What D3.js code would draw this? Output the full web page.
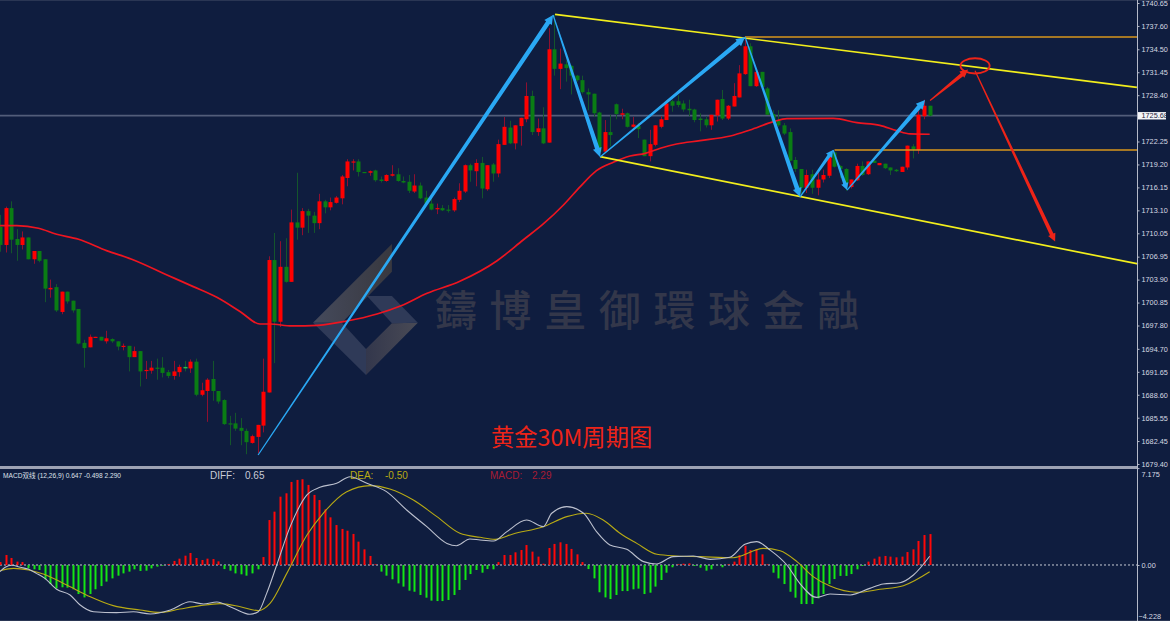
<!DOCTYPE html>
<html>
<head>
<meta charset="utf-8">
<style>
html,body{margin:0;padding:0;background:#0f1d3f;overflow:hidden}
svg{display:block}
text{font-family:"Liberation Sans",Arial,sans-serif}
</style>
<script src="https://cdn.jsdelivr.net/npm/d3@7/dist/d3.min.js"></script>
</head>
<body>
<svg id="chart" width="1170" height="621"></svg>
<script>
// Gold 30-minute bars, one entry per bar
const opens=[1710.9,1708.5,1713.4,1709.3,1708.5,1709.5,1706.6,1707.7,1706.6,1702.6,1702.9,1699.6,1702.3,1701.1,1700.0,1695.5,1694.9,1696.2,1696.3,1695.7,1696.0,1695.7,1695.0,1695.1,1693.6,1694.4,1691.8,1691.8,1692.2,1692.2,1691.6,1691.1,1691.6,1692.3,1692.1,1693.0,1688.6,1689.1,1690.7,1689.1,1687.9,1684.8,1684.8,1684.2,1683.8,1682.2,1683.0,1684.5,1688.9,1706.5,1698.3,1705.6,1703.6,1711.5,1710.8,1713.0,1712.4,1711.4,1714.3,1713.5,1714.1,1714.7,1717.4,1719.5,1719.6,1718.2,1718.1,1718.4,1717.2,1717.0,1717.7,1717.9,1717.0,1716.9,1715.6,1716.4,1714.8,1714.0,1713.3,1713.4,1713.2,1713.1,1714.5,1715.6,1719.1,1718.3,1719.4,1715.9,1719.2,1718.0,1721.8,1724.1,1722.0,1724.3,1725.2,1728.3,1723.5,1724.0,1722.1,1734.5,1731.9,1732.5,1732.3,1731.0,1730.4,1728.8,1728.6,1726.1,1720.9,1723.5,1727.2,1725.8,1726.0,1724.2,1724.3,1722.5,1720.3,1721.8,1724.2,1725.1,1727.6,1727.6,1727.3,1726.6,1726.5,1725.3,1725.2,1724.4,1725.7,1727.9,1725.3,1726.9,1728.1,1731.2,1734.9,1729.6,1731.5,1729.3,1725.9,1725.0,1724.4,1723.5,1719.8,1718.6,1716.1,1717.9,1716.1,1717.2,1717.7,1720.8,1719.0,1718.6,1716.2,1717.1,1719.0,1717.9,1719.7,1719.1,1719.3,1718.8,1718.5,1718.2,1718.8,1721.6,1721.1,1725.6,1727.0];
const highs=[1712.5,1713.6,1714.3,1710.6,1710.3,1709.5,1707.7,1707.7,1706.6,1703.9,1703.3,1702.3,1702.3,1701.1,1700.0,1695.9,1696.6,1696.3,1696.3,1697.1,1696.1,1695.7,1695.4,1695.1,1695.0,1694.4,1693.1,1693.1,1693.4,1693.6,1691.9,1693.1,1692.6,1693.1,1693.3,1693.4,1690.2,1690.8,1693.1,1689.1,1688.0,1685.8,1686.2,1685.5,1684.1,1683.3,1684.6,1693.4,1707.0,1710.1,1709.0,1709.4,1713.2,1718.1,1713.4,1713.3,1712.9,1715.3,1714.5,1714.8,1715.0,1717.8,1719.9,1719.9,1719.9,1718.2,1718.4,1718.5,1717.6,1717.9,1719.1,1718.7,1717.6,1717.8,1717.9,1716.8,1715.7,1714.7,1714.0,1713.8,1713.8,1714.8,1716.7,1719.2,1719.3,1719.9,1720.2,1719.1,1719.4,1722.5,1725.5,1725.0,1724.4,1725.4,1730.1,1729.0,1725.3,1726.8,1737.3,1739.1,1734.6,1733.0,1732.4,1731.1,1731.0,1729.3,1728.6,1726.2,1725.1,1725.8,1727.3,1726.6,1726.1,1725.5,1724.7,1722.5,1723.8,1724.4,1725.6,1727.5,1727.8,1728.4,1727.7,1727.8,1726.6,1726.0,1725.6,1725.8,1727.8,1729.1,1727.1,1730.0,1732.4,1735.8,1735.3,1731.7,1731.5,1729.5,1726.4,1726.4,1724.7,1724.0,1720.2,1718.6,1718.5,1718.5,1718.4,1718.5,1720.9,1720.9,1719.1,1718.7,1717.2,1719.3,1719.6,1719.6,1719.7,1719.4,1719.3,1718.8,1718.6,1718.9,1721.7,1721.9,1726.7,1727.8,1727.0];
const lows=[1707.6,1707.5,1707.4,1706.4,1707.9,1706.6,1706.0,1706.2,1700.9,1701.5,1699.6,1699.3,1700.7,1699.5,1695.3,1692.2,1694.9,1696.2,1695.8,1695.4,1695.5,1694.5,1694.5,1691.7,1693.6,1689.7,1690.7,1691.4,1690.6,1690.9,1690.8,1690.6,1691.0,1691.7,1691.5,1688.4,1688.4,1685.0,1687.8,1687.4,1684.6,1681.9,1683.8,1681.9,1680.7,1682.1,1680.8,1683.6,1688.9,1692.8,1697.6,1703.5,1703.6,1709.2,1709.8,1710.1,1710.1,1710.6,1712.7,1713.1,1714.0,1713.9,1716.3,1718.4,1717.6,1718.1,1717.7,1716.9,1716.8,1716.9,1717.6,1716.9,1716.7,1715.4,1715.4,1714.6,1713.9,1713.1,1712.6,1713.0,1712.8,1712.9,1714.2,1715.4,1716.9,1716.3,1714.7,1715.7,1716.9,1717.5,1721.8,1721.9,1721.2,1721.7,1724.8,1723.1,1723.0,1721.9,1722.1,1731.0,1729.2,1730.2,1728.5,1730.2,1728.6,1726.4,1725.5,1720.7,1720.8,1721.6,1725.2,1725.2,1724.1,1724.1,1722.7,1720.3,1719.6,1721.6,1724.0,1725.1,1726.2,1726.8,1726.2,1725.6,1724.8,1723.6,1724.1,1723.8,1724.9,1725.1,1725.1,1726.9,1728.1,1731.1,1729.6,1729.5,1729.3,1725.8,1724.9,1724.2,1723.1,1719.6,1718.2,1714.9,1715.4,1715.3,1715.1,1716.8,1717.4,1718.8,1717.4,1715.7,1716.0,1717.0,1717.7,1717.8,1719.4,1719.1,1718.6,1717.8,1718.2,1718.2,1718.5,1720.0,1720.6,1725.2,1725.6];
const closes=[1708.5,1713.4,1709.2,1708.5,1709.5,1706.6,1707.7,1706.4,1702.7,1702.8,1699.8,1702.3,1701.0,1699.8,1695.4,1694.8,1696.3,1696.3,1695.8,1696.1,1695.7,1695.0,1695.1,1693.6,1694.4,1691.7,1691.9,1692.2,1692.1,1691.5,1691.1,1691.7,1692.3,1692.1,1693.0,1688.6,1689.2,1690.6,1689.1,1687.7,1684.7,1684.7,1684.1,1683.8,1682.3,1683.1,1684.6,1689.0,1706.5,1698.3,1705.6,1703.6,1711.5,1710.8,1713.0,1712.4,1711.4,1714.3,1713.5,1714.2,1714.8,1717.6,1719.6,1719.6,1718.2,1718.1,1718.3,1717.1,1717.0,1717.8,1717.9,1717.0,1716.8,1715.7,1716.4,1714.7,1714.0,1713.2,1713.4,1713.1,1713.1,1714.6,1715.7,1719.1,1718.4,1719.4,1716.0,1719.1,1718.0,1721.9,1724.2,1722.0,1724.4,1725.4,1728.3,1723.5,1724.0,1722.0,1734.5,1731.9,1732.6,1732.0,1731.0,1730.4,1728.8,1728.5,1726.0,1720.9,1723.5,1723.1,1725.9,1726.0,1724.2,1724.5,1723.9,1720.3,1721.9,1724.4,1725.2,1727.3,1727.0,1727.1,1726.5,1726.4,1725.1,1725.1,1724.4,1725.8,1727.8,1725.3,1727.0,1728.3,1731.3,1734.9,1729.6,1731.5,1729.5,1725.8,1724.9,1724.4,1723.3,1719.7,1718.6,1716.1,1717.8,1716.1,1717.2,1717.8,1720.3,1718.9,1718.6,1716.7,1717.2,1719.0,1717.8,1719.6,1719.4,1719.4,1718.7,1718.4,1718.3,1718.9,1721.7,1721.2,1725.8,1727.0,1725.68];
// Bars drawn in the lighter green (doji near the middle of the range)
const brightBars=[33];

// Moving average, read at a set of bar positions
const maBars=[0,3,6.85,10.1,14,19,23.5,29.8,34.5,38.7,42.9,46.4,48.2,52.1,56.75,62,67.3,71.6,76.25,82.1,88.75,93.4,97,100.6,103.6,106.5,109.5,112.5,115.2,117.9,120.8,125,130.4,133.9,138.1,140.5,148.8,153,157.1,160.1,162.5,166];
const maValues=[1711.07,1711.07,1710.72,1709.92,1709.26,1707.75,1706.6,1704.52,1702.97,1701.55,1699.64,1698.0,1698.0,1697.74,1697.83,1698.4,1699.33,1700.43,1702.08,1703.68,1706.41,1709.16,1711.29,1713.81,1716.25,1718.37,1719.49,1720.32,1720.68,1721.35,1721.92,1722.36,1722.98,1723.78,1724.88,1725.28,1725.33,1724.75,1724.4,1723.69,1723.25,1723.21];

// Price axis
const priceTicks=[1740.65,1737.60,1734.50,1731.45,1728.40,1722.25,1719.20,1716.15,1713.10,1710.05,1706.95,1703.90,1700.85,1697.80,1694.70,1691.65,1688.60,1685.55,1682.45,1679.40];
const lastPrice=1725.68;

// MACD histogram, one entry per bar
const macdHist=[.22,.74,.52,.25,.22,-.25,-.32,-.37,-1.06,-1.41,-1.73,-1.65,-1.68,-1.80,-2.15,-2.40,-2.15,-1.80,-1.56,-1.23,-.99,-.79,-.62,-.49,-.32,-.44,-.42,-.25,-.12,-.05,.07,.30,.47,.69,.89,.52,.37,.47,.44,.27,-.30,-.42,-.62,-.69,-.79,-.62,-.32,.59,3.33,3.95,5.06,5.31,6.15,6.30,6.35,5.93,5.19,4.81,4.12,3.53,2.96,2.67,2.54,2.30,1.73,1.16,.67,.05,-.49,-.79,-1.06,-1.36,-1.60,-1.90,-1.98,-2.22,-2.42,-2.64,-2.67,-2.67,-2.59,-2.22,-1.85,-1.11,-.67,-.37,-.57,-.30,-.32,.22,.74,.74,.94,1.11,1.48,.99,.62,.10,1.26,1.56,1.68,1.56,1.19,.79,.22,-.30,-.99,-2.02,-2.40,-2.52,-2.22,-1.93,-1.93,-1.80,-1.75,-2.15,-2.05,-1.60,-1.11,-.57,-.17,.05,.10,.12,-.07,-.20,-.42,-.32,-.02,-.17,.05,.25,.74,1.43,1.11,1.16,.79,.05,-.57,-.99,-1.41,-1.98,-2.42,-2.89,-2.89,-2.89,-2.47,-2.15,-1.41,-1.04,-.81,-.81,-.67,-.32,-.07,.25,.47,.62,.67,.62,.57,.62,.96,1.16,1.78,2.22,2.29];

// DIFF and DEA lines, read at a set of bar positions
const diffBars=[0,.9,2.1,3.6,5.1,6.5,8,10.1,12.5,14.3,16.7,20.8,23.8,26.8,30.4,33.9,36.3,38.7,41.7,44.6,46.1,47.6,49.4,51.8,54.8,57.1,60.1,62.5,65.5,69,72.6,76.2,79.8,81.5,83.9,85.7,88.1,90.5,94,97,98.5,101.2,104.2,106.5,108.9,111.9,114.9,117.2,120.2,123.8,126.8,130.3,133,135.1,137.5,140.5,142.8,145.8,148.2,151.8,155.3,157.7,160.7,163.1,166];
const diffValues=[-.49,-.17,-.02,-.17,-.32,-.62,-.99,-1.80,-2.22,-2.96,-3.46,-3.53,-3.46,-3.63,-3.33,-2.72,-2.89,-2.74,-3.21,-3.65,-3.46,-2.10,0,2.84,5.19,5.75,6.05,6.54,6.05,5.43,4.07,2.84,1.60,1.43,1.93,1.85,1.78,2.47,3.33,2.84,3.83,4.32,3.83,2.47,1.48,1.16,.25,.07,.62,.67,.42,.57,1.53,1.73,1.11,0,-1.36,-2.40,-2.15,-2.22,-1.73,-1.41,-1.31,-.74,.65];
const deaBars=[0,2.4,5.1,7.7,11.9,16.1,20.2,25,28.6,32.1,35.7,39.3,42.9,46.1,48.2,51.2,54.8,57.7,61.9,66.1,69.6,73.8,78,82.1,85.7,88.4,91.6,97,101.2,104.7,107.7,110.7,113.7,117.3,120.8,125,130.9,136.3,139.3,142.3,145.2,148.2,153,157.1,161.3,166];
const deaValues=[-.42,-.25,-.37,-.67,-1.48,-2.35,-3.01,-3.33,-3.51,-3.26,-3.01,-2.86,-3.09,-3.38,-2.84,-.62,2.22,3.83,5.43,5.88,5.63,4.81,3.58,2.35,2.05,1.90,2.30,2.84,3.58,3.83,3.33,2.35,1.60,.79,.67,.62,.54,1.23,1.06,.25,-.86,-1.56,-2.02,-1.80,-1.53,-.50];
const macdTicks=[7.175,0,-4.228];

// Hand-drawn analysis: [bar, price] anchors
const swingWave=[[46.07,1680.6],[98.75,1739.06],[107.14,1720.2],[133.04,1736.13],[142.86,1714.88],[148.75,1721.12],[151.25,1715.8],[165.18,1727.76]];
const channelLines=[[[99.1,1739.15],[203,1729.45]],[[107.14,1720.23],[203.2,1705.98]]];
const levelLines=[[133,1736.13],[149,1721.12]];
const forecastArrows=[[[166.07,1727.7],[172.86,1731.8]],[[174.1,1731.65],[188.4,1708.95]]];
const forecastTarget=[174.1,1732.3];

const UP="#ff0000",DOWN="#0a7d14",UP_WICK="#8e1030",DOWN_WICK="#14552c",
      BLUE="#2aa8f4",YELLOW="#f2ee1c",ORANGE="#d8961c",ARROW_RED="#ee2418",
      HIST_GREEN="#14e614",TICK="#d6d9e2";
const AXIS_X=1137;

const svg=d3.select("#chart");
const x=d3.scaleLinear().domain([0,203.2]).range([0.1,1138]);
const y=d3.scaleLinear().domain([1679.40,1740.65]).range([464,3]);
const m=d3.scaleLinear().domain([-4.228,7.175]).range([622.1,468.1]);

svg.append("rect").attr("width",1170).attr("height",621).attr("fill","#0f1d3f");

// Watermark: a logo mark and the company name
const defs=svg.append("defs");
const grad=(id,a,b)=>{const g=defs.append("linearGradient").attr("id",id);
  g.append("stop").attr("offset",0).attr("stop-color",a);
  g.append("stop").attr("offset",1).attr("stop-color",b);};
grad("wmA","#454a5c","#38383f");grad("wmB","#33374c","#494a55");
const logo=svg.append("g").attr("transform","translate(313,244)");
[["M0,78.7L78.9,0L78.9,27.7L28.9,78.7Z","url(#wmA)"],
 ["M0,78.7L53,131L53,105L28.9,78.7Z","#2f3a58"],
 ["M53,131L104.8,78.7L78.9,79.3L53,105Z","url(#wmB)"],
 ["M54,52L78.9,52L104.8,78.7L78.9,79.3Z","#2f3a58"]]
 .forEach(([d,f])=>logo.append("path").attr("d",d).attr("fill",f));
svg.append("text").text("鑄博皇御環球金融")
  .attr("x",435).attr("y",326).attr("font-size",42).attr("letter-spacing",12.6)
  .attr("fill","#33374a").style("font-family",'"Noto Sans CJK TC"').style("font-weight",500);

// Last price line
svg.append("line").attr("x1",0).attr("x2",AXIS_X).attr("y1",y(lastPrice)).attr("y2",y(lastPrice))
  .attr("stroke","#525d7a").attr("stroke-width",1.6);

// Candles
const bars=d3.range(opens.length);
const candle=svg.append("g").selectAll("g").data(bars).join("g");
const isUp=i=>closes[i]>=opens[i];
candle.append("line")
  .attr("x1",i=>Math.round(x(i))+.5).attr("x2",i=>Math.round(x(i))+.5)
  .attr("y1",i=>y(highs[i])).attr("y2",i=>y(lows[i]))
  .attr("stroke",i=>isUp(i)?UP_WICK:DOWN_WICK).attr("stroke-width",1);
candle.append("rect")
  .attr("x",i=>Math.round(x(i))-1.5).attr("width",4)
  .attr("y",i=>y(Math.max(opens[i],closes[i])))
  .attr("height",i=>Math.max(1.2,Math.abs(y(opens[i])-y(closes[i]))))
  .attr("fill",i=>brightBars.includes(i)?"#22c04a":(isUp(i)?UP:DOWN));

// Moving average
svg.append("path")
  .attr("d",d3.line().x((d,i)=>x(maBars[i])).y(d=>y(d)).curve(d3.curveMonotoneX)(maValues))
  .attr("fill","none").attr("stroke","#ee1520").attr("stroke-width",1.7);

// Channel and horizontal levels
const link=d3.line().x(d=>x(d[0])).y(d=>y(d[1]));
channelLines.forEach(l=>svg.append("path").attr("d",link(l)).attr("stroke",YELLOW).attr("stroke-width",1.7).attr("fill","none"));
levelLines.forEach(([b,p])=>svg.append("line").attr("x1",x(b)).attr("x2",AXIS_X).attr("y1",y(p)).attr("y2",y(p))
  .attr("stroke",ORANGE).attr("stroke-width",1.6));

// Tapered arrow between two anchors, narrow at the tail
function taperArrow(a,b,tail,head,hw,hl,color){
  const [x0,y0]=[x(a[0]),y(a[1])],[x1,y1]=[x(b[0]),y(b[1])];
  const len=Math.hypot(x1-x0,y1-y0),ux=(x1-x0)/len,uy=(y1-y0)/len,nx=-uy,ny=ux;
  const bx=x1-ux*hl,by=y1-uy*hl;
  const p=[[x0+nx*tail/2,y0+ny*tail/2],[bx+nx*head/2,by+ny*head/2],[bx+nx*hw/2,by+ny*hw/2],[x1,y1],
           [bx-nx*hw/2,by-ny*hw/2],[bx-nx*head/2,by-ny*head/2],[x0-nx*tail/2,y0-ny*tail/2]];
  svg.append("polygon").attr("points",p.map(q=>q.join(",")).join(" ")).attr("fill",color);
}
d3.pairs(swingWave).forEach(([a,b])=>{
  const short=Math.abs(b[0]-a[0])<8;
  taperArrow(a,b,1.2,short?3.4:4.6,short?7.5:9,short?7:9,BLUE);
});
forecastArrows.forEach(([a,b])=>taperArrow(a,b,1.2,3.8,8,8,ARROW_RED));
svg.append("ellipse").attr("cx",x(forecastTarget[0])).attr("cy",y(forecastTarget[1]))
  .attr("rx",14.6).attr("ry",7.6).attr("fill","none").attr("stroke",ARROW_RED).attr("stroke-width",1.9);

svg.append("text").text("黄金30M周期图").attr("x",491).attr("y",446)
  .attr("font-size",23.3).attr("fill",ARROW_RED).style("font-family",'"Noto Sans CJK SC"');

// Pane separator and right-hand axes
svg.append("rect").attr("x",0).attr("y",466).attr("width",AXIS_X).attr("height",3).attr("fill","#9da2b4");
svg.append("line").attr("x1",0).attr("x2",1170).attr("y1",.5).attr("y2",.5).attr("stroke","#2a3654");
svg.append("line").attr("x1",0).attr("x2",1170).attr("y1",620.5).attr("y2",620.5).attr("stroke","#2a3654");
svg.append("line").attr("x1",AXIS_X+.5).attr("x2",AXIS_X+.5).attr("y1",0).attr("y2",621).attr("stroke","#b4b9c8");

const priceAxis=d3.axisRight(y).tickValues(priceTicks).tickFormat(d3.format(".2f")).tickSize(2).tickPadding(2);
const gp=svg.append("g").attr("transform",`translate(${AXIS_X+.5},0)`).call(priceAxis);
gp.select(".domain").remove();
gp.selectAll("line").attr("stroke","#b4b9c8");
gp.selectAll("text").attr("fill",TICK).attr("font-size",7.3);
svg.append("rect").attr("x",AXIS_X+1).attr("y",y(lastPrice)-3.6).attr("width",28).attr("height",7.4).attr("fill","#f4f5f8");
svg.append("text").text(lastPrice.toFixed(2)).attr("x",AXIS_X+4.5).attr("y",y(lastPrice)+2.7)
  .attr("font-size",7.3).attr("fill","#1c2440");

// MACD pane
svg.append("line").attr("x1",0).attr("x2",AXIS_X).attr("y1",m(0)).attr("y2",m(0))
  .attr("stroke","#c8ccd6").attr("stroke-width",1).attr("stroke-dasharray","2,2");
svg.append("g").selectAll("rect").data(macdHist).join("rect")
  .attr("x",(d,i)=>Math.round(x(i))-.5).attr("width",2)
  .attr("y",d=>m(Math.max(d,0))).attr("height",d=>Math.abs(m(d)-m(0)))
  .attr("fill",d=>d>=0?"#ff0808":HIST_GREEN);
const diffLine=d3.line().x((d,i)=>x(diffBars[i])).y(d=>m(d)).curve(d3.curveMonotoneX);
const deaLine=d3.line().x((d,i)=>x(deaBars[i])).y(d=>m(d)).curve(d3.curveMonotoneX);
svg.append("path").attr("d",deaLine(deaValues)).attr("fill","none").attr("stroke","#b8aa14").attr("stroke-width",1.1);
svg.append("path").attr("d",diffLine(diffValues)).attr("fill","none").attr("stroke","#bcc0ce").attr("stroke-width",1.1);

const macdAxis=d3.axisRight(m).tickValues(macdTicks).tickFormat(d=>d===0?"0.00":d3.format(".3f")(d)).tickSize(2).tickPadding(2);
const gm=svg.append("g").attr("transform",`translate(${AXIS_X+.5},0)`).call(macdAxis);
gm.select(".domain").remove();
gm.selectAll("line").attr("stroke","#b4b9c8");
gm.selectAll("text").attr("fill",TICK).attr("font-size",7.3);
gm.selectAll(".tick").filter(d=>d===7.175).select("text").attr("y",6);
gm.selectAll(".tick").filter(d=>d===-4.228).select("text").attr("y",-6).attr("x",1);

// MACD readouts
svg.append("text").text("MACD双线 (12,26,9) 0.647 -0.498 2.290").attr("x",3).attr("y",477.5)
  .attr("font-size",6.6).attr("fill","#dfe2ea").style("font-family",'"Liberation Sans","Noto Sans CJK SC"');
const legend=[["DIFF:","0.65",210,245,"#c9ccd8"],["DEA:","-0.50",350,385,"#b8aa14"],["MACD:","2.29",490,532,"#a81c34"]];
legend.forEach(([k,v,a,b,c])=>{
  svg.append("text").text(k).attr("x",a).attr("y",479).attr("font-size",10).attr("fill",c);
  svg.append("text").text(v).attr("x",b).attr("y",479).attr("font-size",10).attr("fill",c);
});
</script>
</body>
</html>
